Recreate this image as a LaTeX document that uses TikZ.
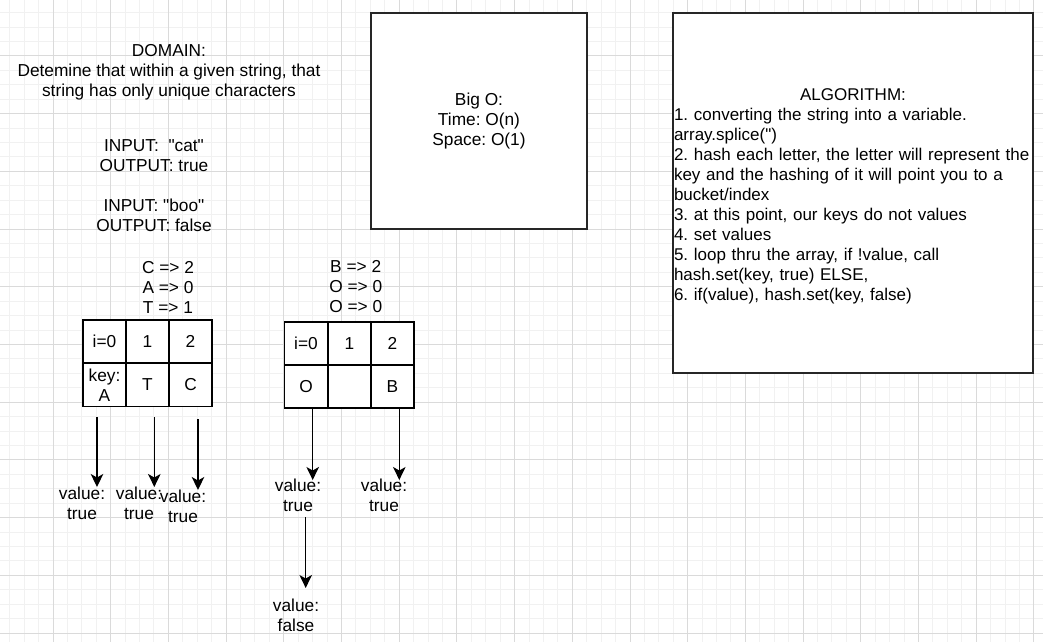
\documentclass[tikz,border=0pt]{standalone}
\usepackage{fontspec}
\usepackage{xcolor}
\newfontfamily\drawfont{Liberation Sans}
\usetikzlibrary{arrows.meta}
\definecolor{gridminor}{HTML}{F1F1F1}
\definecolor{gridmajor}{HTML}{DADADA}
\frenchspacing
\tikzset{
  every node/.style={font=\drawfont\fontsize{17.3}{20}\selectfont, inner sep=0pt},
  minorline/.style={gridminor, line width=1pt},
  majorline/.style={gridmajor, line width=1pt},
  bigbox/.style={draw=black!85, fill=white, line width=1.4pt},
  cell/.style={draw, fill=white, line width=1.4pt, minimum width=43.3pt, minimum height=43.3pt, align=center},
  valuelabel/.style={align=center},
  arr/.style={line width=1.4pt, -{Stealth[length=13pt, width=12.5pt, inset=3.5pt]}},
}
\begin{document}
\begin{tikzpicture}[x=1pt, y=-1pt]
                \useasboundingbox (0,0) rectangle (1043,642);
                \fill[white] (0,0) rectangle (1043,642);
                % background grid
                \foreach \i in {0,...,72} \draw[minorline] ({-4.7+14.425*\i},0) -- ++(0,642);
                \foreach \i in {0,...,44} \draw[minorline] (0,{-1.7+14.425*\i}) -- ++(1043,0);
                \foreach \i in {0,...,18} \draw[majorline] ({-4.7+57.7*\i},0) -- ++(0,642);
                \foreach \i in {0,...,11} \draw[majorline] (0,{-1.7+57.7*\i}) -- ++(1043,0);
                % texts on the left
                \node[align=center] (domain) at (169,72) {DOMAIN:\\Detemine that within a given string, that\\string has only unique characters};
                \node[align=center] (io) at (154,186) {INPUT: \ "cat"\\OUTPUT: true\\[20pt]INPUT: "boo"\\OUTPUT: false};
                % boxes
                \node[bigbox, minimum width=216pt, minimum height=216pt, align=center] (bigo) at (479,121) {Big O:\\Time: O(n)\\Space: O(1)};
                \node[bigbox, minimum width=360pt, minimum height=360pt, text width=358pt, align=left, font=\drawfont\fontsize{17}{20}\selectfont] (algo) at (853,193) {\rule{0pt}{19pt}\makebox[358pt]{ALGORITHM:}\\1. converting the string into a variable.\\array.splice(")\\2. hash each letter, the letter will represent the\\key and the hashing of it will point you to a\\bucket/index\\3. at this point, our keys do not values\\4. set values\\5. loop thru the array, if !value, call\\hash.set(key, true) ELSE,\\6. if(value), hash.set(key, false)};
                % "cat" table
                \node[align=center] (catmap) at (168,287) {C => 2\\A => 0\\T => 1};
                \foreach \x/\t [count=\i from 0] in {104.5/i=0, 147.5/1, 190.5/2}
                    \node[cell] (cati\i) at (\x,341.5) {\t};
                \node[cell] (catk0) at (104.5,385) {key:\\A};
                \node[cell] (catk1) at (147.5,385) {T};
                \node[cell] (catk2) at (190.5,385) {C};
                % "boo" table
                \node[align=center] (boomap) at (355.7,287) {B => 2\\O => 0\\O => 0};
                \foreach \x/\t [count=\i from 0] in {306/i=0, 349.5/1, 392.5/2}
                    \node[cell] (booi\i) at (\x,343.5) {\t};
                \node[cell] (bookey0) at (306,386.5) {O};
                \node[cell] (bookey1) at (349.5,386.5) {};
                \node[cell] (bookey2) at (392.5,386.5) {B};
                % values
                \node[valuelabel] (catv0) at (82,503) {value:\\true};
                \node[valuelabel] (catv1) at (139,503) {value:\\true};
                \node[valuelabel] (catv2) at (183,506) {value:\\true};
                \node[valuelabel] (boov0) at (298,495) {value:\\true};
                \node[valuelabel] (boov2) at (384,495) {value:\\true};
                \node[valuelabel] (boov3) at (296,615) {value:\\false};
                \coordinate (catstart0) at (97,417);
                \coordinate (catstart1) at (154.3,417);
                \coordinate (catstart2) at (198,419);
                \coordinate (boostart3) at (305.7,517);
                \draw[arr] (catstart0) -- (catstart0 |- 0,487);
                \draw[arr] (catstart1) -- (catstart1 |- 0,487);
                \draw[arr] (catstart2) -- (catstart2 |- 0,490);
                \draw[arr] ([xshift=6.7pt]bookey0.south) -- ([xshift=6.7pt]bookey0.south |- 0,480);
                \draw[arr] ([xshift=6.8pt]bookey2.south) -- ([xshift=6.8pt]bookey2.south |- 0,480);
                \draw[arr] (boostart3) -- (boostart3 |- 0,588);
            \end{tikzpicture}
\end{document}
